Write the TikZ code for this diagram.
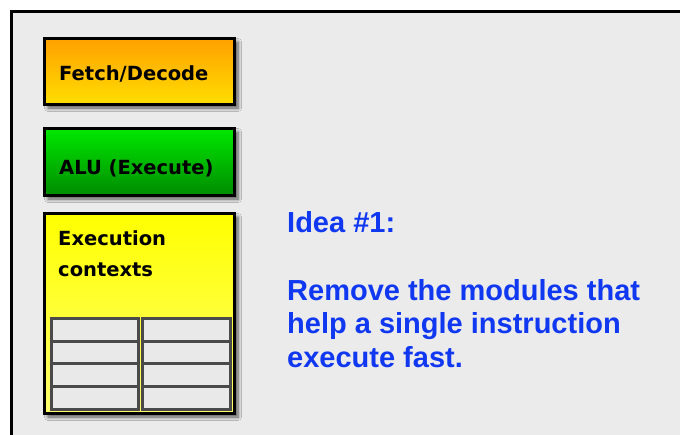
\documentclass[tikz,border=0pt]{standalone}
\usepackage{fontspec}
\setmainfont{Liberation Sans}
\newfontfamily\boxfont{DejaVu Sans}
\usetikzlibrary{shadows.blur}
\definecolor{panel}{HTML}{EBEBEB}
\definecolor{ideablue}{HTML}{1038F0}
\definecolor{cellgray}{HTML}{E9E9E9}
\definecolor{cellline}{HTML}{4A4A4A}
\tikzset{
  unitbox/.style={draw=black, line width=3pt, blur shadow={shadow xshift=4pt, shadow yshift=-4pt, shadow blur steps=6, shadow blur radius=3.5pt, shadow opacity=65}},
  boxlabel/.style={anchor=base west, inner sep=0pt, font=\boxfont\bfseries\fontsize{19.5}{31}\selectfont, text=black},
  cell/.style={draw=cellline, fill=cellgray, line width=3pt},
  idea/.style={anchor=base west, inner sep=0pt, font=\bfseries\fontsize{29}{33.5}\selectfont, text=ideablue, align=left}
}
\begin{document}
\begin{tikzpicture}[x=1pt,y=-1pt]
\useasboundingbox (0,0) rectangle (680,434);
\fill[white] (0,0) rectangle (680,434);
% panel
\filldraw[fill=panel, draw=black, line width=2.8pt] (11.5,11.5) rectangle (700,460);
% fetch/decode
\path[unitbox, top color={rgb,255:red,255;green,160;blue,0}, bottom color={rgb,255:red,255;green,222;blue,0}] (44,38) rectangle (234,104);
\node[boxlabel] (fd) at (59,80) {Fetch/Decode};
% ALU
\path[unitbox, top color={rgb,255:red,0;green,232;blue,0}, bottom color={rgb,255:red,0;green,140;blue,0}] (44,128) rectangle (234,195);
\node[boxlabel] (alu) at (59,174) {ALU (Execute)};
% execution contexts
\path[unitbox, top color={rgb,255:red,255;green,255;blue,0}, bottom color={rgb,255:red,255;green,255;blue,110}] (44,213) rectangle (234,413);
\node[boxlabel, align=left] (ctx) at (58,276) {Execution\\contexts};
% grid
\foreach \ya/\yb [count=\i] in {318/341, 341/363.5, 363.5/386, 386/409} {
  \draw[cell] (51.5,\ya) rectangle (138,\yb);
  \draw[cell] (142.5,\ya) rectangle (230.5,\yb);
}
% idea text
\node[idea] (idea1) at (287,232) {Idea \#1:};
\node[idea] (idea2) at (287,367) {Remove the modules that\\help a single instruction\\execute fast.};
\end{tikzpicture}
\end{document}
